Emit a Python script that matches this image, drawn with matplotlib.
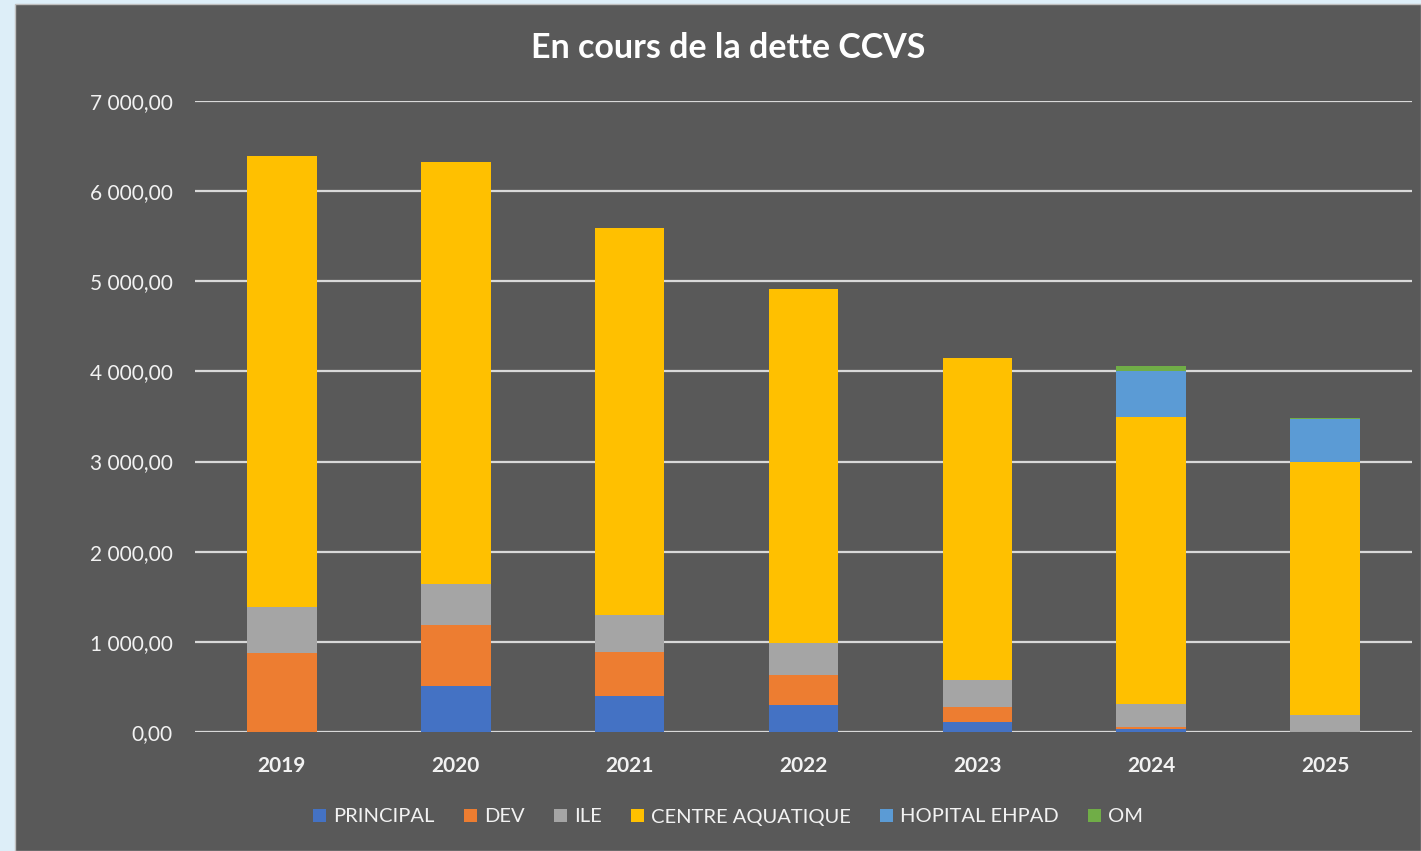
import matplotlib
matplotlib.use("Agg")
import matplotlib.pyplot as plt
from matplotlib.patches import Rectangle, Patch
from matplotlib.ticker import FuncFormatter
import numpy as np

years = ["2019", "2020", "2021", "2022", "2023", "2024", "2025"]
principal = [0, 510, 400, 300, 111, 30, 0]
dev = [880, 677, 487, 332, 166, 29, 0]
ile = [510, 455, 411, 355, 300, 251, 188]
centre_aquatique = [5000, 4680, 4293, 3928, 3575, 3185, 2807]
hopital_ehpad = [0, 0, 0, 0, 0, 506, 474]
om = [0, 0, 0, 0, 0, 59, 14]

series_names = ["PRINCIPAL", "DEV", "ILE", "CENTRE AQUATIQUE", "HOPITAL EHPAD", "OM"]
series_values = [principal, dev, ile, centre_aquatique, hopital_ehpad, om]
colors = ["#4472C4", "#ED7D31", "#A5A5A5", "#FFC000", "#5B9BD5", "#70AD47"]
yticks = [0, 1000, 2000, 3000, 4000, 5000, 6000, 7000]

FONT = "Lato"
W, H = 1421, 851
BG = "#595959"
fig = plt.figure(figsize=(W / 100, H / 100), dpi=100)
fig.patch.set_facecolor("#DDEEF8")
bgrect = Rectangle((15 / W, 0), 1 - 15 / W, (H - 4) / H, transform=fig.transFigure,
                   facecolor=BG, edgecolor="#BFBFBF", linewidth=1.0, zorder=-10)
fig.patches.append(bgrect)

ax = fig.add_axes([195 / W, (H - 732) / H, 1217 / W, 631 / H], zorder=5)
ax.set_facecolor(BG)
ax.patch.set_alpha(0)

x = np.arange(len(years))
bottom = np.zeros(len(years))
for name, vals, c in zip(series_names, series_values, colors):
    v = np.array(vals, dtype=float)
    ax.bar(x, v, bottom=bottom, width=0.40, color=c, label=name, zorder=3)
    bottom += v

ax.set_xlim(-0.5, len(years) - 0.5)
ax.set_ylim(0, 7000)
ax.set_yticks(yticks)
ax.yaxis.set_major_formatter(FuncFormatter(lambda v, p: f"{v:,.2f}".replace(",", " ").replace(".", ",")))
ax.grid(axis="y", color="#D9D9D9", linewidth=1.6, zorder=1)
for s in ax.spines.values():
    s.set_visible(False)
ax.tick_params(axis="y", length=0, pad=16, labelsize=15, labelcolor="#F2F2F2")
ax.tick_params(axis="x", length=0, pad=17, labelsize=15, labelcolor="#F2F2F2")
ax.set_xticks(x)
ax.set_xticklabels(years, fontweight="bold", fontfamily=FONT)
for t in ax.get_yticklabels():
    t.set_fontfamily(FONT)

fig.text(728 / W, 1 - 48 / H, "En cours de la dette CCVS", ha="center", va="center",
         fontsize=24.5, fontweight="bold", color="white", fontfamily=FONT)

handles = [Patch(facecolor=c, edgecolor="none") for c in colors]
leg = fig.legend(handles, series_names, loc="center", bbox_to_anchor=(728 / W, 1 - 817 / H),
                 ncol=6, frameon=False, handlelength=0.65, handleheight=0.65,
                 handletextpad=0.35, columnspacing=1.45,
                 prop={"family": FONT, "size": 14.5})
for t in leg.get_texts():
    t.set_color("#F2F2F2")

fig.savefig("out.png", dpi=100, facecolor=fig.get_facecolor())
